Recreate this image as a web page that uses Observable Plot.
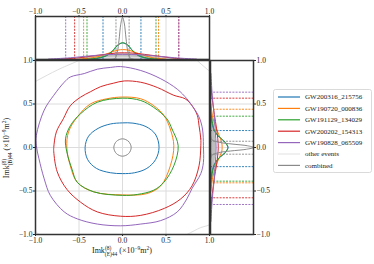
<!DOCTYPE html>
<html><head><meta charset="utf-8">
<script src="https://cdn.jsdelivr.net/npm/d3@7"></script>
<script src="https://cdn.jsdelivr.net/npm/@observablehq/plot@0.6"></script>
<style>
body{margin:0;background:#fff;}
#c{position:relative;width:374px;height:264px;font-family:"Liberation Serif",serif;color:#222;}
#c svg{position:absolute;left:0;top:0;}
#c svg text{font-family:"Liberation Serif",serif !important;fill:#222;}
</style></head><body><div id="c"></div>
<script>
// ---------- data ----------
const events = ["GW200316_215756","GW190720_000836","GW191129_134029","GW200202_154313","GW190828_065509"];
const colors = ["#1f77b4","#ff7f0e","#2ca02c","#d62728","#9467bd"];
const tickValues = [-1,-0.5,0,0.5,1];

// 90% contours (x, y) in units of 1e-9 m^2
const contourBlue = [[0.42,0],[0.38,0.15],[0.27,0.24],[0.12,0.28],[0,0.283],[-0.14,0.27],[-0.28,0.22],[-0.39,0.13],[-0.43,0],[-0.40,-0.14],[-0.30,-0.24],[-0.14,-0.29],[0,-0.30],[0.14,-0.29],[0.28,-0.24],[0.38,-0.14]];
const contourOrange = [[0.59,0.02],[0.55,0.21],[0.475,0.37],[0.36,0.48],[0.21,0.56],[0,0.58],[-0.18,0.56],[-0.37,0.50],[-0.52,0.35],[-0.62,0.18],[-0.64,0],[-0.60,-0.21],[-0.52,-0.40],[-0.33,-0.51],[0,-0.545],[0.28,-0.53],[0.44,-0.44],[0.55,-0.21]];
const contourGreen = [[0.64,0.02],[0.57,0.21],[0.51,0.33],[0.36,0.46],[0.21,0.54],[0,0.567],[-0.29,0.52],[-0.48,0.39],[-0.60,0.25],[-0.655,0.10],[-0.64,-0.05],[-0.58,-0.25],[-0.52,-0.40],[-0.33,-0.51],[0,-0.55],[0.17,-0.54],[0.36,-0.49],[0.475,-0.40],[0.59,-0.21]];
const contourRed = [[0.90,0.02],[0.90,0.10],[0.88,0.25],[0.86,0.37],[0.80,0.48],[0.72,0.56],[0.59,0.60],[0.40,0.69],[0.21,0.75],[0.02,0.765],[-0.10,0.74],[-0.25,0.70],[-0.37,0.64],[-0.48,0.58],[-0.60,0.48],[-0.68,0.33],[-0.76,0.18],[-0.79,0],[-0.79,-0.05],[-0.75,-0.28],[-0.64,-0.48],[-0.48,-0.63],[-0.29,-0.74],[-0.02,-0.79],[0.21,-0.78],[0.48,-0.70],[0.67,-0.59],[0.80,-0.44],[0.88,-0.21]];
const contourPurple = [[0.93,0.02],[0.92,0.21],[0.88,0.35],[0.80,0.48],[0.74,0.56],[0.63,0.67],[0.44,0.79],[0.21,0.885],[-0.02,0.93],[-0.14,0.92],[-0.29,0.90],[-0.44,0.85],[-0.60,0.81],[-0.67,0.75],[-0.79,0.60],[-0.90,0.43],[-0.99,0.14],[-0.99,0.02],[-0.96,-0.13],[-0.90,-0.36],[-0.83,-0.55],[-0.67,-0.74],[-0.52,-0.82],[-0.29,-0.88],[-0.02,-0.90],[0.21,-0.88],[0.44,-0.84],[0.63,-0.74],[0.74,-0.59],[0.80,-0.47],[0.90,-0.30],[0.93,-0.17]];
const contourCombined = [[0.1,0],[0.07,0.07],[0,0.1],[-0.07,0.07],[-0.1,0],[-0.07,-0.07],[0,-0.1],[0.07,-0.07]];
const otherContourA = [[-1.1,0.70],[-0.98,0.77],[-0.75,0.89],[-0.64,0.94],[-0.5,1.0],[-0.4,1.05]];
const otherContourB = [[0.78,1.08],[0.88,0.98],[0.99,0.885],[1.06,0.82]];
const otherContourC = [[0.6,-1.06],[0.74,-1.0],[0.90,-0.92],[0.97,-0.90],[1.06,-0.86]];
const otherContourD = [[-1.04,-0.93],[-0.97,-0.99],[-0.92,-1.04]];

// marginal densities (x or y value, relative height)
const margXBlue = [[-0.35,0.01],[-0.25,0.04],[-0.18,0.09],[-0.12,0.18],[-0.06,0.32],[0,0.385],[0.06,0.33],[0.12,0.19],[0.18,0.09],[0.25,0.04],[0.35,0.01]];
const margXOrange = [[-0.5,0.01],[-0.35,0.04],[-0.22,0.1],[-0.12,0.18],[-0.05,0.22],[0,0.23],[0.06,0.22],[0.14,0.17],[0.24,0.1],[0.35,0.04],[0.5,0.01]];
const margXGreen = [[-0.4,0.01],[-0.3,0.03],[-0.2,0.08],[-0.12,0.19],[-0.06,0.33],[0,0.39],[0.06,0.34],[0.12,0.2],[0.2,0.08],[0.3,0.03],[0.4,0.01]];
const margXRed = [[-0.7,0.01],[-0.5,0.04],[-0.35,0.08],[-0.2,0.12],[-0.08,0.15],[0.02,0.155],[0.12,0.15],[0.25,0.12],[0.4,0.08],[0.55,0.04],[0.7,0.01]];
const margXPurple = [[-0.85,0.01],[-0.6,0.04],[-0.4,0.08],[-0.2,0.11],[0,0.12],[0.2,0.11],[0.4,0.08],[0.6,0.04],[0.85,0.01]];
const margXCombined = [[-0.14,0],[-0.09,0.02],[-0.06,0.17],[-0.04,0.45],[-0.02,0.82],[0,0.98],[0.02,0.85],[0.04,0.5],[0.06,0.2],[0.09,0.03],[0.14,0]];
const margXOtherBand = [[-0.7,0],[-0.6,0.01],[-0.5,0.03],[-0.4,0.05],[-0.3,0.08],[-0.2,0.11],[-0.1,0.13],[0,0.135],[0.1,0.13],[0.2,0.11],[0.3,0.08],[0.4,0.05],[0.5,0.03],[0.6,0.01],[0.7,0]];
const margXOtherLine = [[-1,0.005],[-0.5,0.025],[0,0.05],[0.5,0.025],[1,0.005]];

const margYBlue = [[-0.35,0.01],[-0.25,0.05],[-0.18,0.1],[-0.12,0.2],[-0.06,0.34],[0,0.41],[0.06,0.34],[0.12,0.2],[0.18,0.1],[0.25,0.05],[0.35,0.01]];
const margYOrange = [[-0.5,0.01],[-0.35,0.05],[-0.22,0.12],[-0.12,0.2],[-0.05,0.26],[0,0.27],[0.06,0.26],[0.14,0.2],[0.24,0.12],[0.35,0.05],[0.5,0.01]];
const margYGreen = [[-0.4,0.01],[-0.3,0.04],[-0.2,0.09],[-0.12,0.2],[-0.06,0.34],[0,0.40],[0.06,0.34],[0.12,0.21],[0.2,0.09],[0.3,0.04],[0.4,0.01]];
const margYRed = [[-0.7,0.01],[-0.5,0.05],[-0.35,0.09],[-0.2,0.14],[-0.08,0.17],[0,0.18],[0.1,0.17],[0.22,0.14],[0.38,0.09],[0.52,0.05],[0.7,0.01]];
const margYPurple = [[-0.85,0.01],[-0.6,0.04],[-0.4,0.08],[-0.2,0.11],[0,0.13],[0.2,0.11],[0.4,0.08],[0.6,0.04],[0.85,0.01]];
const margYCombined = [[-0.14,0],[-0.09,0.03],[-0.06,0.18],[-0.04,0.47],[-0.02,0.84],[0,1.0],[0.02,0.86],[0.04,0.5],[0.06,0.2],[0.09,0.03],[0.14,0]];
const margYOtherBand = [[-0.65,0],[-0.5,0.02],[-0.4,0.05],[-0.3,0.08],[-0.2,0.1],[-0.1,0.12],[0,0.13],[0.1,0.12],[0.2,0.1],[0.3,0.08],[0.4,0.05],[0.5,0.02],[0.65,0]];

// 90% marginal bounds [lower, upper]
const boundsX = [[-0.224,0.212],[-0.447,0.414],[-0.408,0.385],[-0.55,0.647],[-0.653,0.647]];
const boundsXCombined = [-0.075,0.076];
const boundsY = [[-0.22,0.195],[-0.406,0.44],[-0.387,0.36],[-0.578,0.567],[-0.655,0.636]];
const boundsYCombined = [-0.077,0.072];

const legendLabels = [...events, "other events", "combined"];
const legendColors = [...colors, "#e6e6e6", "#8a8a8a"];

// ---------- drawing ----------
const fmt = d3.format(".1f");
const st = "font-family:'Liberation Serif',serif;font-size:7.5px;color:#222;background:none;overflow:visible;";
const GRID = "#dcdcdc", FRAME = "#333", COMB = "#8a8a8a", OTHER = "#dedede";
const contours = [contourBlue, contourOrange, contourGreen, contourRed, contourPurple];
const mX = [margXBlue, margXOrange, margXGreen, margXRed, margXPurple];
const mY = [margYBlue, margYOrange, margYGreen, margYRed, margYPurple];
const px = d => d[0], py = d => d[1];
const host = document.getElementById("c");
const axisOpts = {ticks:tickValues, tickFormat:fmt, tickSize:2, tickPadding:1, label:null};

const mainPlot = Plot.plot({
  width:374, height:264, marginLeft:35, marginRight:165, marginTop:60, marginBottom:30,
  style: st,
  x:{domain:[-1,1], ...axisOpts},
  y:{domain:[-1,1], ...axisOpts},
  marks:[
    Plot.ruleX([-0.5,0,0.5], {stroke:GRID}),
    Plot.ruleY([-0.5,0,0.5], {stroke:GRID}),
    ...[otherContourA, otherContourB, otherContourC, otherContourD].map(o => Plot.line(o, {x:px, y:py, stroke:OTHER, strokeWidth:1, curve:"catmull-rom", clip:true})),
    ...contours.map((ct,i) => Plot.line(ct, {x:px, y:py, stroke:colors[i], strokeWidth:1, curve:"catmull-rom-closed", clip:true})),
    Plot.line(contourCombined, {x:px, y:py, stroke:COMB, strokeWidth:1, curve:"catmull-rom-closed"}),
    Plot.frame({stroke:FRAME, strokeWidth:1.5})
  ]
});
host.appendChild(mainPlot);

const topPlot = Plot.plot({
  width:374, height:264, marginLeft:35, marginRight:165, marginTop:16, marginBottom:205,
  style: st,
  x:{domain:[-1,1], ...axisOpts, axis:"top"},
  y:{domain:[0,1], axis:null},
  marks:[
    Plot.ruleX([-0.5,0,0.5], {stroke:GRID}),
    Plot.areaY(margXOtherBand, {x:px, y:py, fill:"#bdbdbd", curve:"catmull-rom"}),
    Plot.line(margXOtherLine, {x:px, y:py, stroke:OTHER, curve:"catmull-rom"}),
    ...boundsX.map((b,i) => Plot.ruleX(b, {stroke:colors[i], strokeDasharray:"2,1.2", strokeWidth:0.9})),
    Plot.ruleX(boundsXCombined, {stroke:COMB, strokeDasharray:"2,1.2", strokeWidth:0.9}),
    ...mX.map((m,i) => Plot.line(m, {x:px, y:py, stroke:colors[i], strokeWidth:1, curve:"catmull-rom"})),
    Plot.line(margXCombined, {x:px, y:py, stroke:COMB, strokeWidth:1, curve:"catmull-rom"}),
    Plot.frame({stroke:FRAME, strokeWidth:1.5})
  ]
});
host.appendChild(topPlot);

const rightPlot = Plot.plot({
  width:374, height:264, marginLeft:210, marginRight:121, marginTop:60, marginBottom:30,
  style: st,
  x:{domain:[0,1], axis:null},
  y:{domain:[-1,1], ...axisOpts, axis:"right"},
  marks:[
    Plot.ruleY([-0.5,0,0.5], {stroke:GRID}),
    Plot.areaX(margYOtherBand, {y:px, x:py, fill:"#bdbdbd", curve:"catmull-rom"}),
    ...boundsY.map((b,i) => Plot.ruleY(b, {stroke:colors[i], strokeDasharray:"2,1.2", strokeWidth:0.9})),
    Plot.ruleY(boundsYCombined, {stroke:COMB, strokeDasharray:"2,1.2", strokeWidth:0.9}),
    ...mY.map((m,i) => Plot.line(m, {y:px, x:py, stroke:colors[i], strokeWidth:1, curve:"catmull-rom"})),
    Plot.line(margYCombined, {y:px, x:py, stroke:COMB, strokeWidth:1, curve:"catmull-rom"}),
    Plot.frame({stroke:FRAME, strokeWidth:1.5})
  ]
});
host.appendChild(rightPlot);

// axis labels with sub/superscripts
function axisLabel(svg, x, y, rot, sub) {
  const t = svg.append("text").attr("transform", `translate(${x},${y}) rotate(${rot})`)
    .attr("text-anchor","middle").attr("font-size",8);
  t.append("tspan").text("Imk");
  t.append("tspan").attr("font-size",5.5).attr("dy",-3.2).text("(8)");
  t.append("tspan").attr("font-size",5.5).attr("dx",-6.5).attr("dy",6).text(sub);
  t.append("tspan").attr("dy",-2.8).text(" (×10");
  t.append("tspan").attr("font-size",5.5).attr("dy",-3.2).text("−9");
  t.append("tspan").attr("dy",3.2).text("m");
  t.append("tspan").attr("font-size",5.5).attr("dy",-3.2).text("2");
  t.append("tspan").attr("dy",3.2).text(")");
}
const ms = d3.select(mainPlot);
axisLabel(ms, 122, 253, 0, "(E)44");
axisLabel(ms, 9, 148, -90, "(B)44");

// legend
const lg = d3.select(host).append("svg").attr("width",374).attr("height",264).style("overflow","visible");
lg.append("rect").attr("x",273.5).attr("y",89.5).attr("width",98).attr("height",83).attr("rx",2)
  .attr("fill","white").attr("fill-opacity",0.8).attr("stroke","#d0d0d0").attr("stroke-width",0.8);
legendLabels.forEach((lab,i) => {
  const yy = 97 + i*11.4;
  lg.append("line").attr("x1",278).attr("x2",300).attr("y1",yy).attr("y2",yy).attr("stroke",legendColors[i]).attr("stroke-width",1.2);
  lg.append("text").attr("x",305).attr("y",yy).attr("dy","0.35em")
    .attr("font-size",7).text(lab);
});
</script></body></html>
